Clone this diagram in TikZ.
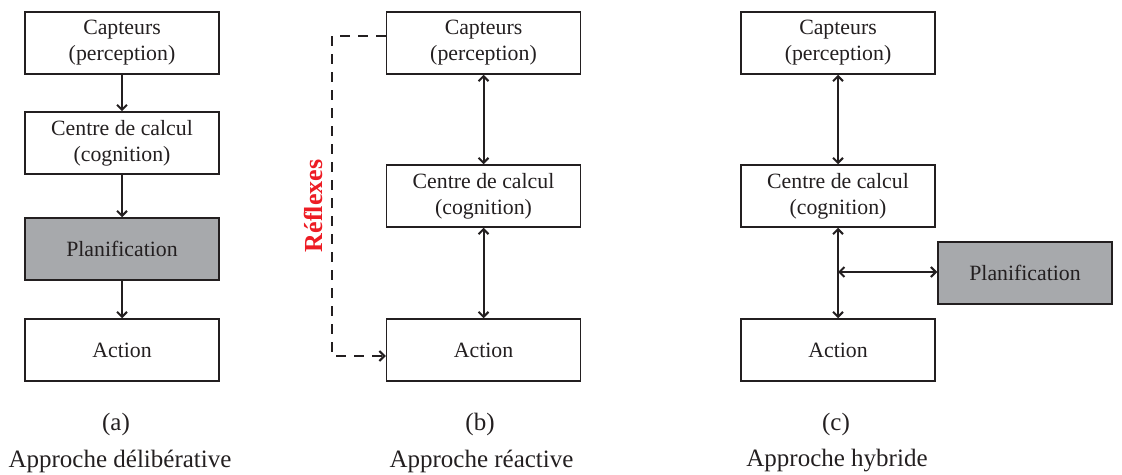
\documentclass[tikz,border=0pt]{standalone}
\usepackage{fontspec}
\setmainfont{Liberation Serif}
\usetikzlibrary{arrows.meta,calc}
\definecolor{ink}{RGB}{35,31,32}
\definecolor{boxgray}{RGB}{167,169,172}
\definecolor{reflexred}{RGB}{237,28,36}
\tikzset{
  blockbox/.style={draw=ink, line width=0.75pt, fill=white, minimum width=97pt, minimum height=31pt, inner sep=0pt, align=center, font=\rmfamily\fontsize{10.9}{13}\selectfont, text=ink},
  graybox/.style={blockbox, fill=boxgray},
  conn/.style={draw=ink, line width=1pt, -{Straight Barb[length=2.5pt,width=5pt]}},
  biconn/.style={draw=ink, line width=1pt, {Straight Barb[length=2.5pt,width=5pt]}-{Straight Barb[length=2.5pt,width=5pt]}},
  dashconn/.style={draw=ink, line width=1pt, dash pattern=on 5pt off 4pt, -{Straight Barb[length=2.5pt,width=5pt]}},
  caption/.style={font=\rmfamily\fontsize{12.5}{15}\selectfont, text=ink, inner sep=0pt},
}
\begin{document}
\begin{tikzpicture}[x=0.5pt,y=-0.5pt]
\useasboundingbox (0,0) rectangle (1122,475);
% (a)
\node[blockbox] (capa) at (122,43) {Capteurs\\(perception)};
\node[blockbox] (cena) at (122,143) {Centre de calcul\\(cognition)};
\node[graybox] (plana) at (122,249) {Planification};
\node[blockbox] (acta) at (122,350) {Action};
\draw[conn] (capa) -- (cena);
\draw[conn] (cena) -- (plana);
\draw[conn] (plana) -- (acta);
\node[caption] (la) at (116,424) {(a)};
\node[caption] (ca) at (120,461) {Approche délibérative};
% (b)
\node[blockbox] (capb) at (483.5,43) {Capteurs\\(perception)};
\node[blockbox] (cenb) at (483.5,196) {Centre de calcul\\(cognition)};
\node[blockbox] (actb) at (483.5,350) {Action};
\draw[biconn] (capb) -- (cenb);
\draw[biconn] (cenb) -- (actb);
\coordinate (r1) at (332,36);
\coordinate (r2) at (332,356);
\draw[dashconn] (capb.west |- r1) -- (r1) -- (r2) -- (actb.west |- r2);
\node[font=\rmfamily\fontsize{13}{15}\selectfont\bfseries, text=reflexred, rotate=90, inner sep=0pt] (refl) at (313,206) {Réflexes};
\node[caption] (lb) at (480,424) {(b)};
\node[caption] (cb) at (481.5,461) {Approche réactive};
% (c)
\node[blockbox] (capc) at (838,43) {Capteurs\\(perception)};
\node[blockbox] (cenc) at (838,196) {Centre de calcul\\(cognition)};
\node[blockbox] (actc) at (838,350) {Action};
\node[graybox, minimum width=87pt] (planc) at (1025,273) {Planification};
\draw[biconn] (capc) -- (cenc);
\draw[biconn] (cenc) -- (actc);
\coordinate (hj) at (838,272);
\draw[biconn] (hj) -- (planc.west |- hj);
\node[caption] (lc) at (836,424) {(c)};
\node[caption] (cc) at (837,461) {Approche hybride};
\end{tikzpicture}
\end{document}
